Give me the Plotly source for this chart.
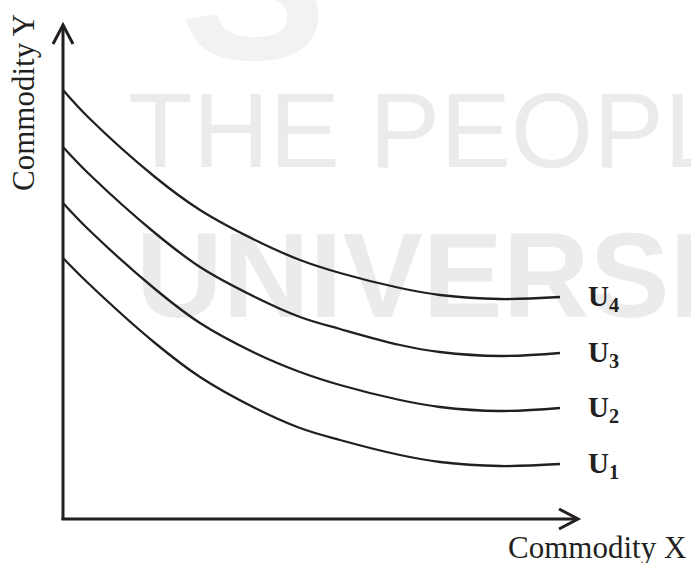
import plotly.graph_objects as go

# Quantity of commodity X (horizontal) sampled along the indifference curves
x_vals = [0, 25, 92, 137, 192, 237, 277, 337, 377, 437, 497]
# Quantity of commodity Y for each indifference curve
u4_vals = [429, 402, 342, 309, 279, 259, 246, 231, 224, 220, 222]
u3_vals = [372, 346, 286, 252, 222, 202, 190, 174, 167, 163, 166]
u2_vals = [316, 290, 230, 196, 166, 147, 134, 119, 112, 108, 111]
u1_vals = [261, 236, 176, 142, 111, 91, 79, 64, 57, 53, 55]

curve_names = ["U<sub>4</sub>", "U<sub>3</sub>", "U<sub>2</sub>", "U<sub>1</sub>"]
curves = [u4_vals, u3_vals, u2_vals, u1_vals]

# Watermark texts
wm_texts = ["THE PEOPLE'S", "<b>UNIVERSITY</b>"]

INK = "#231f20"
WM = "#ebebeb"

fig = go.Figure()

# Watermark as text traces so that it lies beneath the curves
fig.add_trace(go.Scatter(
    x=[65], y=[379], mode="text", text=[wm_texts[0]], textposition="middle right",
    textfont=dict(family="Liberation Sans", size=106, color=WM),
    cliponaxis=False, showlegend=False, hoverinfo="skip"))
fig.add_trace(go.Scatter(
    x=[73], y=[232], mode="text", text=[wm_texts[1]], textposition="middle right",
    textfont=dict(family="Liberation Sans", size=120, color=WM),
    cliponaxis=False, showlegend=False, hoverinfo="skip"))

for name, ys in zip(curve_names, curves):
    fig.add_trace(go.Scatter(
        x=x_vals, y=ys, mode="lines",
        line=dict(color=INK, width=2.3, shape="spline", smoothing=1.0),
        showlegend=False, hoverinfo="skip", name=name,
    ))
    fig.add_annotation(
        x=x_vals[-1] + 26, y=ys[-1] - 1, xref="x", yref="y",
        text="<b>" + name + "</b>", showarrow=False,
        xanchor="left", yanchor="middle",
        font=dict(family="Liberation Serif", size=29, color=INK),
    )

# Big faint logo glyph at the top edge
fig.add_annotation(x=178 / 691, y=1 - 108 / 563, xref="paper", yref="paper",
                   text="<b>S</b>", showarrow=False, xanchor="left", yanchor="bottom",
                   font=dict(family="Liberation Sans", size=220, color="#f2f2f2"))

# Axes with arrowheads
Y_TOP = 494
X_END = 515
shapes = [
    dict(type="line", x0=0, y0=-1, x1=0, y1=Y_TOP, line=dict(color=INK, width=3)),
    dict(type="line", x0=-1.5, y0=0, x1=X_END, y1=0, line=dict(color=INK, width=3)),
    dict(type="path", path=f"M -10 {Y_TOP-19} L 0 {Y_TOP} L 10 {Y_TOP-19}",
         line=dict(color=INK, width=3)),
    dict(type="path", path=f"M {X_END-19} 10 L {X_END} 0 L {X_END-19} -10",
         line=dict(color=INK, width=3)),
]

fig.add_annotation(x=688 / 691, y=1 - 547 / 563, xref="paper", yref="paper",
                   text="Commodity X", showarrow=False, xanchor="right", yanchor="middle",
                   font=dict(family="Liberation Serif", size=31, color=INK))
fig.add_annotation(x=23 / 691, y=1 - 103 / 563, xref="paper", yref="paper",
                   text="Commodity Y", showarrow=False, textangle=-90,
                   xanchor="center", yanchor="middle",
                   font=dict(family="Liberation Serif", size=31, color=INK))

fig.update_layout(
    width=691, height=563,
    margin=dict(l=0, r=0, t=0, b=0),
    paper_bgcolor="white", plot_bgcolor="white",
    shapes=shapes,
    xaxis=dict(range=[-63, 628], visible=False, fixedrange=True),
    yaxis=dict(range=[-44, 519], visible=False, fixedrange=True),
)

fig.write_html(
    "out.html",
    config={"displayModeBar": False},
    post_script="document.body.style.margin='0';document.body.style.overflow='hidden';",
)
